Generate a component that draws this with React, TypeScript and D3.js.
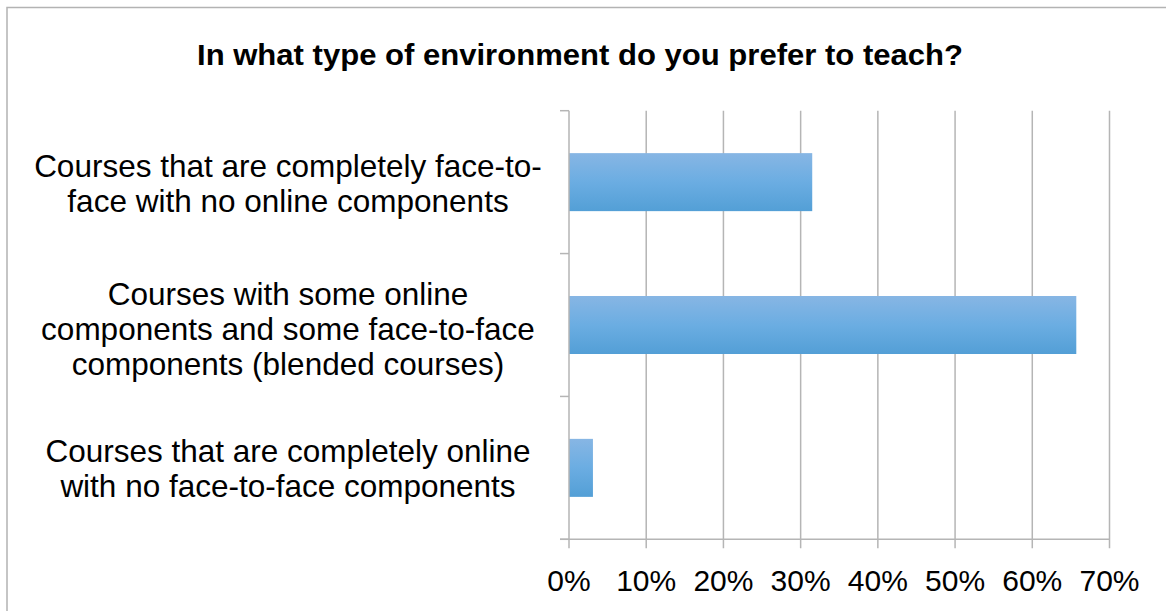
import React from "react";
import * as d3 from "d3";

const title = "In what type of environment do you prefer to teach?";
const categories: string[][] = [
  ["Courses that are completely face-to-", "face with no online components"],
  ["Courses with some online", "components and some face-to-face", "components (blended courses)"],
  ["Courses that are completely online", "with no face-to-face components"],
];
const values: number[] = [31.5, 65.7, 3.1];
const xTicks: number[] = [0, 10, 20, 30, 40, 50, 60, 70];

const W = 1166;
const H = 611;
const plot = { left: 569, right: 1109.5, top: 110.7, bottom: 539.3 };
const gridColor = "#b5b5b5";

export default function App() {
  const x = d3.scaleLinear().domain([0, 70]).range([plot.left, plot.right]);
  const y = d3
    .scaleBand<number>()
    .domain(d3.range(categories.length))
    .range([plot.top, plot.bottom])
    .paddingInner(0.594)
    .paddingOuter(0.297);
  const step = y.step();
  const catBoundaries = d3.range(categories.length + 1).map((i) => plot.top + i * step);
  const labelCx = 288;
  const lineH = 35;
  const font = "Liberation Sans, Arial, Helvetica, sans-serif";

  return (
    <svg
      width={W}
      height={H}
      style={{ position: "absolute", left: 0, top: 0, background: "#fff" }}
    >
      <defs>
        <linearGradient id="barGrad" x1="0" y1="0" x2="0" y2="1">
          <stop offset="0%" stopColor="#87b6e4" />
          <stop offset="50%" stopColor="#6badE2" />
          <stop offset="100%" stopColor="#539fd6" />
        </linearGradient>
      </defs>
      <rect x={7} y={7.5} width={W + 20} height={H + 20} fill="#fff" stroke="#b3b3b3" strokeWidth={1.5} />
      <text
        x={580}
        y={65}
        textAnchor="middle"
        fontFamily={font}
        fontWeight="bold"
        fontSize={30}
        textLength={766}
        lengthAdjust="spacingAndGlyphs"
        fill="#000"
      >
        {title}
      </text>
      {xTicks.slice(1).map((t) => (
        <line key={"g" + t} x1={x(t)} x2={x(t)} y1={plot.top} y2={plot.bottom + 9} stroke={gridColor} strokeWidth={1.5} />
      ))}
      {values.map((v, i) => (
        <rect
          key={"b" + i}
          x={x(0)}
          y={y(i)}
          width={x(v) - x(0)}
          height={y.bandwidth()}
          fill="url(#barGrad)"
        />
      ))}
      <line x1={plot.left} x2={plot.left} y1={plot.top} y2={plot.bottom + 9} stroke={gridColor} strokeWidth={1.5} />
      {catBoundaries.map((b, i) => (
        <line key={"ct" + i} x1={plot.left - 9} x2={plot.left} y1={b} y2={b} stroke={gridColor} strokeWidth={1.5} />
      ))}
      <line x1={plot.left - 9} x2={plot.right} y1={plot.bottom} y2={plot.bottom} stroke={gridColor} strokeWidth={1.5} />
      {xTicks.map((t) => (
        <text
          key={"xt" + t}
          x={x(t)}
          y={591}
          textAnchor="middle"
          fontFamily={font}
          fontSize={30}
          fill="#000"
        >
          {t + "%"}
        </text>
      ))}
      {categories.map((lines, i) => {
        const cy = (y(i) as number) + y.bandwidth() / 2;
        const n = lines.length;
        return (
          <g key={"cl" + i}>
            {lines.map((ln, j) => (
              <text
                key={j}
                x={labelCx}
                y={cy + 12 + (n > 2 ? 3 : 0) + (j - (n - 1) / 2) * lineH}
                textAnchor="middle"
                fontFamily={font}
                fontSize={31.5}
                fill="#000"
              >
                {ln}
              </text>
            ))}
          </g>
        );
      })}
    </svg>
  );
}
